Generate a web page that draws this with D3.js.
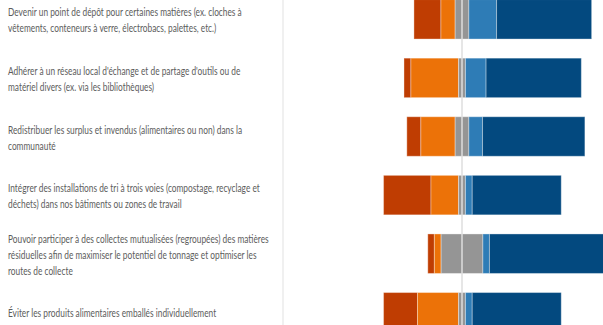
<!DOCTYPE html>
<html><head><meta charset="utf-8">
<script src="https://cdn.jsdelivr.net/npm/d3@7/dist/d3.min.js"></script>
<style>body{margin:0;background:#fff}svg{display:block}</style>
</head><body><svg id="c" width="603" height="325"></svg>
<script>
const categories = [
  ["Devenir un point de dépôt pour certaines matières (ex. cloches à","vêtements, conteneurs à verre, électrobacs, palettes, etc.)"],
  ["Adhérer à un réseau local d'échange et de partage d'outils ou de","matériel divers (ex. via les bibliothèques)"],
  ["Redistribuer les surplus et invendus (alimentaires ou non) dans la","communauté"],
  ["Intégrer des installations de tri à trois voies (compostage, recyclage et","déchets) dans nos bâtiments ou zones de travail"],
  ["Pouvoir participer à des collectes mutualisées (regroupées) des matières","résiduelles afin de maximiser le potentiel de tonnage et optimiser les","routes de collecte"],
  ["Éviter les produits alimentaires emballés individuellement"]
];
const seriesNames = ["Pas du tout intéressé","Peu intéressé","Neutre","Assez intéressé","Très intéressé"];
const veryLow  = [15.2, 3.9, 7.9, 26.7, 3.7, 19.1];
const low      = [8.0, 26.8, 19.3, 15.5, 3.8, 23.1];
const neutral  = [7.7, 3.9, 7.7, 3.9, 23.5, 3.9];
const high     = [15.6, 11.6, 7.7, 3.8, 3.7, 3.8];
const veryHigh = [53.5, 53.6, 57.6, 50.1, 65.3, 50.1];
const colors = ["#bf3d02","#ec7208","#959595","#2e7cb6","#03497f"];

const svg = d3.select("#c");
const cx = 462, pxPer = 1.777;
const x = d3.scaleLinear().domain([-50,50]).range([cx-50*pxPer, cx+50*pxPer]);
const ids = categories.map((d,i)=>i);
const y = d3.scaleBand().domain(ids).range([-10, -10+6*58.6]).paddingInner(0.326).paddingOuter(0.163);

// panel separator
svg.append("rect").attr("x",282).attr("y",0).attr("width",2).attr("height",325).attr("fill","#f0f0f0");

const series = [veryLow, low, neutral, high, veryHigh];
ids.forEach(i=>{
  const vals = series.map(s=>s[i]);
  let start = -(vals[0]+vals[1]+vals[2]/2);
  const g = svg.append("g");
  vals.forEach((v,k)=>{
    g.append("rect")
      .attr("x", x(start)).attr("y", y(i))
      .attr("width", x(start+v)-x(start)).attr("height", y.bandwidth())
      .attr("fill", colors[k])
      .attr("stroke","rgba(255,255,255,0.35)").attr("stroke-width",1);
    start += v;
  });
});
// center line
svg.append("line").attr("x1",x(0)).attr("x2",x(0)).attr("y1",0).attr("y2",325)
  .attr("stroke","#dedede").attr("stroke-width",1.5);

// labels
const lab = svg.append("g").attr("font-family","Lato, 'Open Sans', sans-serif")
  .attr("font-size","10.5px").attr("fill","#5c5c5c");
const lh = 16;
const texts = [];
ids.forEach(i=>{
  const lines = categories[i];
  const cy = y(i)+y.bandwidth()/2 + 1.5;
  const t = lab.append("text").attr("x",8);
  lines.forEach((ln,j)=>{
    t.append("tspan").attr("x",8)
      .attr("y", cy + (j-(lines.length-1)/2)*lh)
      .attr("dy","0.35em").text(ln);
  });
  texts.push(t);
});
// horizontally condense to match reference text width
const w0 = texts[0].select("tspan").node().getComputedTextLength();
const sx = 234 / w0;
texts.forEach(t=>t.attr("transform",`translate(${8*(1-sx)},0) scale(${sx},1)`));
</script></body></html>
